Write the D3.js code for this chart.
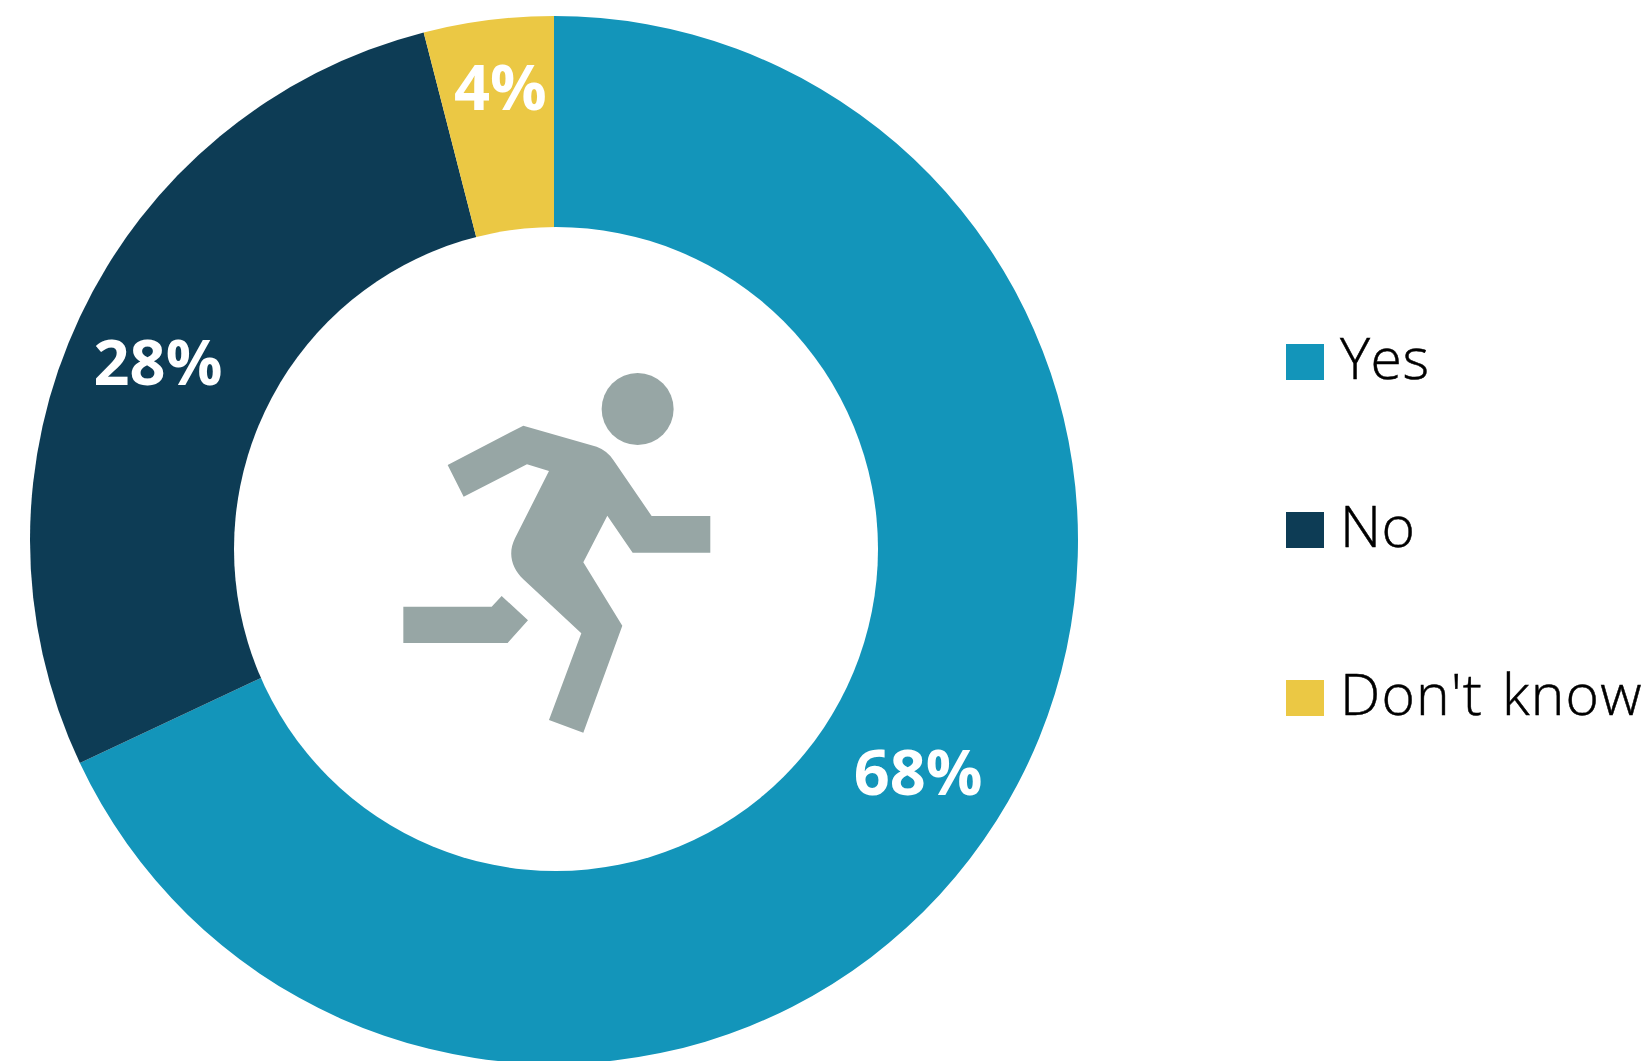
<!DOCTYPE html>
<html>
<head>
<meta charset="utf-8">
<script src="https://cdn.jsdelivr.net/npm/d3@7/dist/d3.min.js"></script>
<style>
  html, body { margin: 0; padding: 0; background: #fff; overflow: hidden; }
  svg { display: block; }
</style>
</head>
<body>
<svg id="chart" width="1650" height="1061"></svg>
<script>
// Survey answers and their shares, in percent
const categories = ["Yes", "No", "Don't know"];
const shares = [68, 28, 4];
const colors = ["#1395BA", "#0D3C55", "#EBC844"];

const width = 1650, height = 1061;
const center = { x: 554, y: 540 };
const outerRadius = 524;
// The white hole sits slightly off the ring's centre
const hole = { x: 556, y: 549, r: 322 };

const labelRadius = 436;
// Fine placement of each percentage label around its slice centroid
const labelNudge = [[-4, -3.5], [-1.5, 6], [1, -22]];
// Legend tracking per row
const legendTracking = [0.5, 0.5, 1.15];

const svg = d3.select("#chart");
const color = d3.scaleOrdinal().domain(categories).range(colors);

const pie = d3.pie().sort(null).value(d => d.share);
const slices = pie(categories.map((name, i) => ({ name, share: shares[i] })));

const arc = d3.arc().innerRadius(0).outerRadius(outerRadius);
const labelArc = d3.arc().innerRadius(labelRadius).outerRadius(labelRadius);

const ring = svg.append("g").attr("transform", `translate(${center.x},${center.y})`);
ring.selectAll("path")
  .data(slices)
  .join("path")
  .attr("d", arc)
  .attr("fill", d => color(d.data.name));

svg.append("circle")
  .attr("cx", hole.x).attr("cy", hole.y).attr("r", hole.r)
  .attr("fill", "#fff");

ring.selectAll("text")
  .data(slices)
  .join("text")
  .attr("transform", (d, i) => {
    const [x, y] = labelArc.centroid(d);
    return `translate(${x + labelNudge[i][0]},${y + labelNudge[i][1]})`;
  })
  .attr("text-anchor", "middle")
  .attr("dominant-baseline", "central")
  .attr("font-family", "'Open Sans', sans-serif")
  .attr("font-weight", 700)
  .attr("font-size", 63)
  .attr("fill", "#fff")
  .text(d => `${d.data.share}%`);

// Running-figure pictogram in the middle of the ring
const runner = svg.append("g")
  .attr("transform", "translate(380,350) scale(0.3333)")
  .attr("fill", "#97A6A5");
runner.append("circle").attr("cx", 773).attr("cy", 177).attr("r", 108);
runner.append("path").attr("d",
  "M430,227 L650,290 Q682,302 700,330 L815,498 L991,498 L991,608 L758,608 L682,497 " +
  "L610,637 L727,827 L610,1148 L507,1110 L604,850 L430,688 C396,655 382,612 405,565 " +
  "L507,363 L441,343 L251,440 L203,345 Z");
runner.append("path").attr("d",
  "M70,770 L335,770 L365,738 L444,811 L383,879 L70,879 Z");

// Legend
const legendY = d3.scalePoint().domain(categories).range([344, 680]);
const legend = svg.append("g");
const rows = legend.selectAll("g")
  .data(categories)
  .join("g")
  .attr("transform", d => `translate(1286,${legendY(d)})`);
rows.append("rect")
  .attr("width", 38).attr("height", 36)
  .attr("fill", d => color(d));
rows.append("text")
  .attr("x", 54).attr("y", 35)
  .attr("font-family", "'Open Sans', sans-serif")
  .attr("font-weight", 300)
  .attr("font-size", 57)
  .attr("letter-spacing", (d, i) => legendTracking[i])
  .attr("word-spacing", 3)
  .attr("fill", "#000")
  .attr("stroke", "#000")
  .attr("stroke-width", 0.5)
  .text(d => d);
</script>
</body>
</html>
